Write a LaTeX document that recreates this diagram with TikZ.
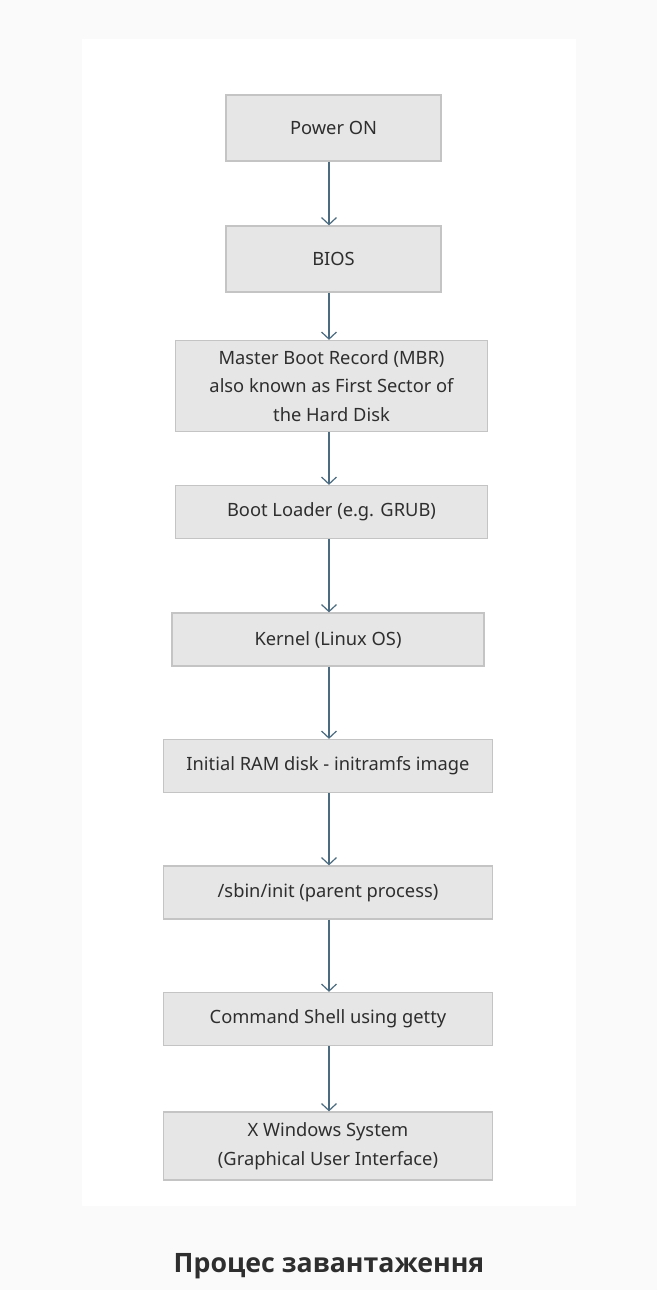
\documentclass[tikz,border=0pt]{standalone}
\usepackage{fontspec}
\setmainfont{Noto Sans}
\newfontfamily\capfont{Open Sans}
\usetikzlibrary{arrows.meta}
\definecolor{pagebg}{HTML}{FAFAFA}
\definecolor{boxfill}{HTML}{E6E6E6}
\definecolor{boxline}{HTML}{C4C4C4}
\definecolor{txt}{HTML}{2E2E2E}
\definecolor{arrowc}{HTML}{4A6B80}
\begin{document}
\begin{tikzpicture}[x=1pt,y=-1pt,
  stepbox/.style={draw=boxline, fill=boxfill, line width=1.3pt, text=txt,
    font=\fontsize{18.3}{28.5}\selectfont, align=center, inner sep=0pt},
  flow/.style={draw=arrowc, line width=1.8pt, -{Straight Barb[length=7pt,width=15pt,line width=1.2pt]}}]
\fill[pagebg] (0,0) rectangle (657,1290);
\useasboundingbox (0,0) rectangle (657,1290);
\fill[white] (82,39) rectangle (576,1206);
\coordinate (axis) at (329,0);
\node[stepbox, minimum width=215pt, minimum height=66pt] (b1) at (333.5,128) {Power ON};
\node[stepbox, minimum width=215pt, minimum height=66pt] (b2) at (333.5,259) {BIOS};
\node[stepbox, minimum width=312pt, minimum height=91pt] (b3) at (331.5,386) {Master Boot Record (MBR)\\also known as First Sector of\\the Hard Disk};
\node[stepbox, minimum width=312pt, minimum height=53pt] (b4) at (331.5,512) {Boot Loader (e.g. GRUB)};
\node[stepbox, minimum width=312pt, minimum height=53pt] (b5) at (328,639.5) {Kernel (Linux OS)};
\node[stepbox, minimum width=329pt, minimum height=53pt] (b6) at (328,766) {Initial RAM disk - initramfs image};
\node[stepbox, minimum width=329pt, minimum height=53pt] (b7) at (328,892.5) {/sbin/init (parent process)};
\node[stepbox, minimum width=329pt, minimum height=53pt] (b8) at (328,1019) {Command Shell using getty};
\node[stepbox, minimum width=329pt, minimum height=68pt] (b9) at (328,1146) {X Windows System\\(Graphical User Interface)};
\foreach \a/\b in {b1/b2,b2/b3,b3/b4,b4/b5,b5/b6,b6/b7,b7/b8,b8/b9}
  \draw[flow] (\a.south -| axis) -- (\b.north -| axis);
\node[text=txt, font=\capfont\bfseries\fontsize{26.7}{30}\selectfont, inner sep=0pt] (cap) at (329,1266) {Процес завантаження};
\end{tikzpicture}
\end{document}
